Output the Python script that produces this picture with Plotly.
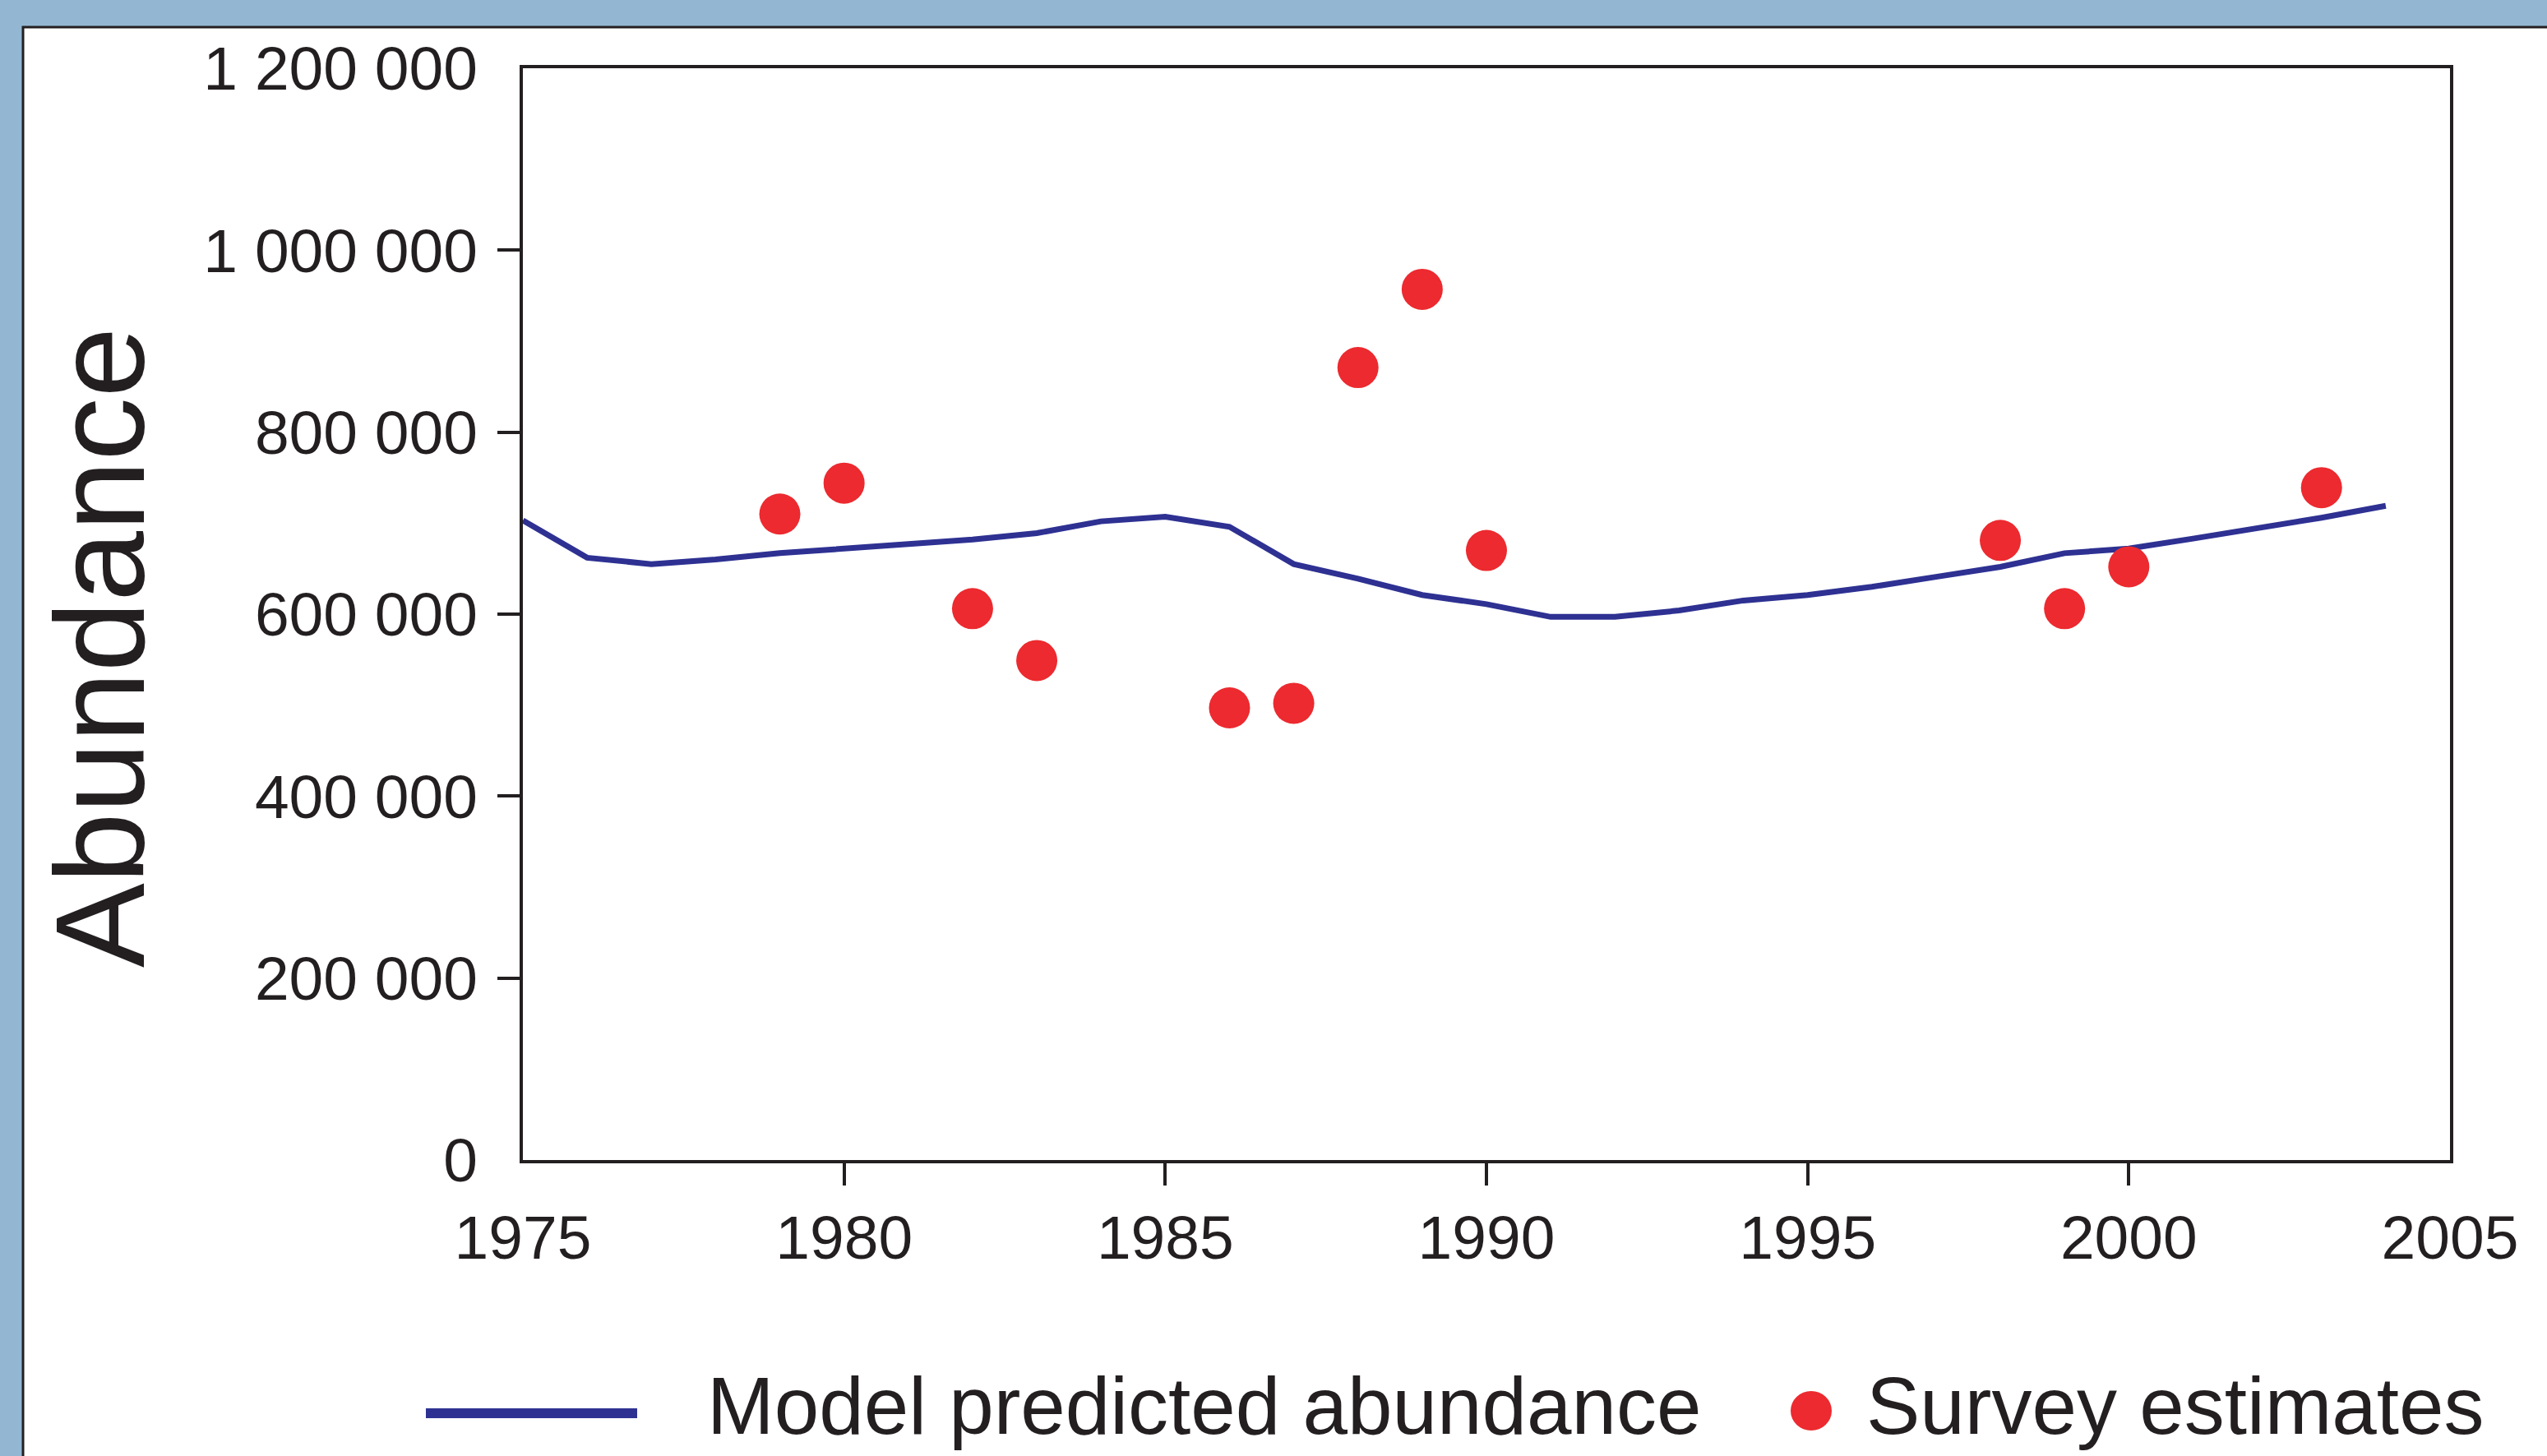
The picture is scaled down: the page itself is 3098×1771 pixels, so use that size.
import plotly.graph_objects as go

# ---------------- data ----------------
model_years = list(range(1975, 2005))
model_abundance = [703000, 662000, 655000, 660000, 667000, 672000, 677000, 682000, 689000, 702000,
                   707000, 696000, 655000, 639000, 621000, 611000, 597000, 597000, 604000, 615000,
                   621000, 630000, 641000, 652000, 667000, 672000, 683000, 694000, 706000, 719000]

survey_years = [1979, 1980, 1982, 1983, 1986, 1987, 1988, 1989, 1990, 1998, 1999, 2000, 2003]
survey_estimates = [710000, 744000, 606000, 549000, 497000, 502000, 871000, 957000, 670000,
                    681000, 606000, 652000, 739000]

x_tickvals = [1975, 1980, 1985, 1990, 1995, 2000, 2005]
x_ticktext = ["1975", "1980", "1985", "1990", "1995", "2000", "2005"]
y_tickvals = [0, 200000, 400000, 600000, 800000, 1000000, 1200000]
y_ticktext = ["0", "200 000", "400 000", "600 000", "800 000", "1 000 000", "1 200 000"]

series_names = ["Model predicted abundance", "Survey estimates"]
y_title = "Abundance"

# ---------------- layout geometry ----------------
W, H = 3098, 1771
ML, MR, MT, MB = 636, 118, 83, 360
PW, PH = W - ML - MR, H - MT - MB

def px(xpix):
    return (xpix - ML) / PW

def py(ypix):
    return (H - MB - ypix) / PH

INK = "#231F20"
BLUE = "#2E3192"
RED = "#EC2A2F"
BG = "#93B7D3"
FONT = "Liberation Sans, Arial, sans-serif"

fig = go.Figure()
fig.add_trace(go.Scatter(x=model_years, y=model_abundance, mode="lines",
                         line=dict(color=BLUE, width=7), name=series_names[0],
                         showlegend=False, cliponaxis=False))
fig.add_trace(go.Scatter(x=survey_years, y=survey_estimates, mode="markers",
                         marker=dict(color=RED, size=50, line=dict(width=0)),
                         name=series_names[1], showlegend=False, cliponaxis=False))
# empty helper trace so the overlaying tick-only axes are drawn
fig.add_trace(go.Scatter(x=[None], y=[None], xaxis="x2", yaxis="y2", mode="lines",
                         showlegend=False, hoverinfo="skip"))

axis_common = dict(showgrid=False, zeroline=False, showline=True, linewidth=4,
                   linecolor=INK, mirror=True, ticks="",
                   tickfont=dict(family=FONT, size=75, color=INK))
tick_axis = dict(ticks="outside", ticklen=30, tickwidth=4, tickcolor=INK,
                 showticklabels=False, showgrid=False, zeroline=False, showline=False,
                 tickmode="array")

fig.update_layout(
    width=W, height=H, autosize=False,
    margin=dict(l=ML, r=MR, t=MT, b=MB, pad=0),
    paper_bgcolor=BG, plot_bgcolor="white",
    xaxis=dict(range=[1975, 2005], tickmode="array", tickvals=x_tickvals,
               ticktext=x_ticktext, ticklabelstandoff=26, **axis_common),
    yaxis=dict(range=[0, 1200000], tickmode="array", tickvals=y_tickvals,
               ticktext=y_ticktext, ticklabelstandoff=36, **axis_common),
    xaxis2=dict(range=[1975, 2005], overlaying="x", anchor="y2", side="bottom",
                tickvals=x_tickvals[1:-1], **tick_axis),
    yaxis2=dict(range=[0, 1200000], overlaying="y", anchor="x2", side="left",
                tickvals=y_tickvals[1:-1], **tick_axis),
    showlegend=False,
)

# white panel with thin border (below everything)
fig.add_shape(type="rect", xref="paper", yref="paper", layer="below",
              x0=px(28), x1=px(W + 50), y0=py(H + 50), y1=py(33),
              fillcolor="white", line=dict(color=INK, width=3))

# y-axis title
fig.add_annotation(text=y_title, xref="paper", yref="paper", x=px(122), y=py(788),
                   xanchor="center", yanchor="middle", textangle=-90, showarrow=False,
                   font=dict(family=FONT, size=154, color=INK))

# custom legend
fig.add_shape(type="line", xref="paper", yref="paper",
              x0=px(518), x1=px(775), y0=py(1719), y1=py(1719),
              line=dict(color=BLUE, width=12))
fig.add_shape(type="circle", xref="paper", yref="paper",
              x0=px(2203 - 25), x1=px(2203 + 25), y0=py(1716 + 24), y1=py(1716 - 24),
              fillcolor=RED, line=dict(width=0))
fig.add_annotation(text=series_names[0], xref="paper", yref="paper", x=px(858), y=py(1710),
                   xanchor="left", yanchor="middle", showarrow=False,
                   font=dict(family=FONT, size=98, color=INK))
fig.add_annotation(text=series_names[1], xref="paper", yref="paper", x=px(2268), y=py(1710),
                   xanchor="left", yanchor="middle", showarrow=False,
                   font=dict(family=FONT, size=98, color=INK))

fig.write_html("out.html",
               config={"displayModeBar": False},
               post_script="document.body.style.margin='0';"
                           "document.body.style.background='%s';" % BG)
